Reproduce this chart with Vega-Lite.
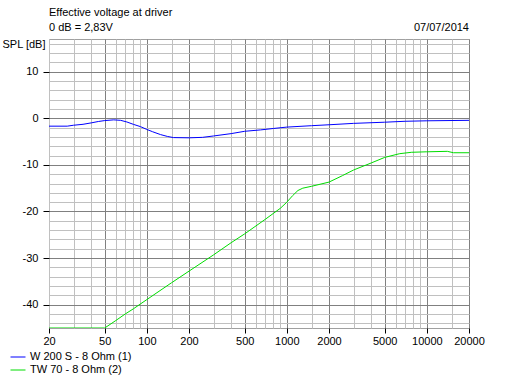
{
  "$schema": "https://vega.github.io/schema/vega-lite/v6.json",
  "width": 420,
  "height": 289,
  "autosize": {"type": "none"},
  "padding": {"left": 49, "top": 39, "right": 46, "bottom": 52},
  "background": "white",
  "config": {
    "font": "Liberation Sans",
    "view": {"stroke": "#a0a0a0", "strokeWidth": 1}
  },
  "title": {
    "text": ["Effective voltage at driver", "0 dB = 2,83V"],
    "anchor": "start",
    "frame": "group",
    "orient": "top",
    "fontSize": 11,
    "fontWeight": "normal",
    "font": "Liberation Sans",
    "color": "black",
    "lineHeight": 15,
    "offset": 5,
    "dy": 16
  },
  "datasets": {
    "curves": [
      {"series": "W 200 S - 8 Ohm (1)", "freq": 20, "spl": -1.7},
      {"series": "W 200 S - 8 Ohm (1)", "freq": 27, "spl": -1.7},
      {"series": "W 200 S - 8 Ohm (1)", "freq": 30, "spl": -1.5},
      {"series": "W 200 S - 8 Ohm (1)", "freq": 35, "spl": -1.3},
      {"series": "W 200 S - 8 Ohm (1)", "freq": 40, "spl": -1.0},
      {"series": "W 200 S - 8 Ohm (1)", "freq": 45, "spl": -0.7},
      {"series": "W 200 S - 8 Ohm (1)", "freq": 50, "spl": -0.5},
      {"series": "W 200 S - 8 Ohm (1)", "freq": 58, "spl": -0.35},
      {"series": "W 200 S - 8 Ohm (1)", "freq": 65, "spl": -0.45},
      {"series": "W 200 S - 8 Ohm (1)", "freq": 72, "spl": -0.8},
      {"series": "W 200 S - 8 Ohm (1)", "freq": 80, "spl": -1.3},
      {"series": "W 200 S - 8 Ohm (1)", "freq": 90, "spl": -1.8},
      {"series": "W 200 S - 8 Ohm (1)", "freq": 100, "spl": -2.4},
      {"series": "W 200 S - 8 Ohm (1)", "freq": 110, "spl": -2.9},
      {"series": "W 200 S - 8 Ohm (1)", "freq": 125, "spl": -3.5},
      {"series": "W 200 S - 8 Ohm (1)", "freq": 140, "spl": -3.9},
      {"series": "W 200 S - 8 Ohm (1)", "freq": 155, "spl": -4.15},
      {"series": "W 200 S - 8 Ohm (1)", "freq": 200, "spl": -4.2},
      {"series": "W 200 S - 8 Ohm (1)", "freq": 250, "spl": -4.1},
      {"series": "W 200 S - 8 Ohm (1)", "freq": 300, "spl": -3.8},
      {"series": "W 200 S - 8 Ohm (1)", "freq": 400, "spl": -3.3},
      {"series": "W 200 S - 8 Ohm (1)", "freq": 500, "spl": -2.8},
      {"series": "W 200 S - 8 Ohm (1)", "freq": 650, "spl": -2.5},
      {"series": "W 200 S - 8 Ohm (1)", "freq": 800, "spl": -2.2},
      {"series": "W 200 S - 8 Ohm (1)", "freq": 1000, "spl": -1.9},
      {"series": "W 200 S - 8 Ohm (1)", "freq": 1500, "spl": -1.6},
      {"series": "W 200 S - 8 Ohm (1)", "freq": 2000, "spl": -1.4},
      {"series": "W 200 S - 8 Ohm (1)", "freq": 3000, "spl": -1.1},
      {"series": "W 200 S - 8 Ohm (1)", "freq": 5000, "spl": -0.85},
      {"series": "W 200 S - 8 Ohm (1)", "freq": 7000, "spl": -0.65},
      {"series": "W 200 S - 8 Ohm (1)", "freq": 10000, "spl": -0.55},
      {"series": "W 200 S - 8 Ohm (1)", "freq": 20000, "spl": -0.45},
      {"series": "TW 70 - 8 Ohm (2)", "freq": 20, "spl": -45},
      {"series": "TW 70 - 8 Ohm (2)", "freq": 50, "spl": -45},
      {"series": "TW 70 - 8 Ohm (2)", "freq": 60, "spl": -43.4},
      {"series": "TW 70 - 8 Ohm (2)", "freq": 70, "spl": -42.0},
      {"series": "TW 70 - 8 Ohm (2)", "freq": 80, "spl": -40.9},
      {"series": "TW 70 - 8 Ohm (2)", "freq": 100, "spl": -38.9},
      {"series": "TW 70 - 8 Ohm (2)", "freq": 150, "spl": -35.3},
      {"series": "TW 70 - 8 Ohm (2)", "freq": 200, "spl": -32.8},
      {"series": "TW 70 - 8 Ohm (2)", "freq": 300, "spl": -29.3},
      {"series": "TW 70 - 8 Ohm (2)", "freq": 400, "spl": -26.7},
      {"series": "TW 70 - 8 Ohm (2)", "freq": 500, "spl": -24.8},
      {"series": "TW 70 - 8 Ohm (2)", "freq": 700, "spl": -21.7},
      {"series": "TW 70 - 8 Ohm (2)", "freq": 900, "spl": -19.3},
      {"series": "TW 70 - 8 Ohm (2)", "freq": 1000, "spl": -18.0},
      {"series": "TW 70 - 8 Ohm (2)", "freq": 1100, "spl": -16.6},
      {"series": "TW 70 - 8 Ohm (2)", "freq": 1200, "spl": -15.5},
      {"series": "TW 70 - 8 Ohm (2)", "freq": 1300, "spl": -15.0},
      {"series": "TW 70 - 8 Ohm (2)", "freq": 1500, "spl": -14.6},
      {"series": "TW 70 - 8 Ohm (2)", "freq": 2000, "spl": -13.7},
      {"series": "TW 70 - 8 Ohm (2)", "freq": 2500, "spl": -12.3},
      {"series": "TW 70 - 8 Ohm (2)", "freq": 3000, "spl": -11.1},
      {"series": "TW 70 - 8 Ohm (2)", "freq": 4000, "spl": -9.6},
      {"series": "TW 70 - 8 Ohm (2)", "freq": 5000, "spl": -8.4},
      {"series": "TW 70 - 8 Ohm (2)", "freq": 6400, "spl": -7.6},
      {"series": "TW 70 - 8 Ohm (2)", "freq": 7800, "spl": -7.3},
      {"series": "TW 70 - 8 Ohm (2)", "freq": 10000, "spl": -7.2},
      {"series": "TW 70 - 8 Ohm (2)", "freq": 14000, "spl": -7.1},
      {"series": "TW 70 - 8 Ohm (2)", "freq": 15500, "spl": -7.4},
      {"series": "TW 70 - 8 Ohm (2)", "freq": 20000, "spl": -7.4}
    ]
  },
  "layer": [
    {
      "data": {"name": "curves"},
      "mark": {"type": "line", "strokeWidth": 1, "clip": true},
      "encoding": {
        "x": {
          "field": "freq",
          "type": "quantitative",
          "scale": {"type": "log", "domain": [20, 20000], "nice": false},
          "axis": {
            "title": null,
            "tickCount": 200,
            "values": [20, 30, 40, 50, 60, 70, 80, 90, 100, 150, 200, 300, 400, 500, 600, 700, 800, 900, 1000, 1500, 2000, 3000, 4000, 5000, 6000, 7000, 8000, 9000, 10000, 15000, 20000],
            "labelExpr": "indexof([20,50,100,200,500,1000,2000,5000,10000,20000], datum.value) >= 0 ? '' + datum.value : ''",
            "domain": false,
            "grid": true,
            "gridWidth": 1,
            "gridColor": {"condition": {"test": "indexof([50,100,200,500,1000,2000,5000,10000,20000], datum.value) >= 0", "value": "#808080"}, "value": "#c0c0c0"},
            "ticks": true,
            "tickColor": "black",
            "tickSize": 5,
            "tickOpacity": {"condition": {"test": "indexof([20,50,100,200,500,1000,2000,5000,10000,20000], datum.value) >= 0", "value": 1}, "value": 0},
            "labelPadding": 2,
            "labelFontSize": 11,
            "labelFont": "Liberation Sans",
            "labelColor": "black",
            "labelFlush": false,
            "labelOverlap": false,
            "labelBound": false
          }
        },
        "y": {
          "field": "spl",
          "type": "quantitative",
          "scale": {"domain": [-45, 17], "nice": false, "zero": false},
          "axis": {
            "title": "SPL [dB]",
            "titleAngle": 0,
            "titleX": -47,
            "titleY": 8,
            "titleAlign": "left",
            "titleBaseline": "alphabetic",
            "titleFontWeight": "normal",
            "titleFontSize": 11,
            "titleFont": "Liberation Sans",
            "titleColor": "black",
            "tickCount": 200,
            "values": [-44, -42, -40, -38, -36, -34, -32, -30, -28, -26, -24, -22, -20, -18, -16, -14, -12, -10, -8, -6, -4, -2, 0, 2, 4, 6, 8, 10, 12, 14, 16],
            "labelExpr": "datum.value % 10 === 0 ? '' + datum.value : ''",
            "domain": false,
            "grid": true,
            "gridWidth": 1,
            "gridColor": {"condition": {"test": "datum.value % 10 === 0", "value": "#808080"}, "value": "#c0c0c0"},
            "tickColor": "black",
            "tickSize": 6,
            "tickOpacity": {"condition": {"test": "datum.value % 10 === 0", "value": 1}, "value": 0},
            "labelPadding": 5,
            "labelFontSize": 11,
            "labelFont": "Liberation Sans",
            "labelColor": "black",
            "labelOverlap": false,
            "labelBound": false,
            "labelFlush": false
          }
        },
        "color": {
          "field": "series",
          "type": "nominal",
          "scale": {"domain": ["W 200 S - 8 Ohm (1)", "TW 70 - 8 Ohm (2)"], "range": ["#0000ff", "#00dd00"]},
          "legend": {
            "orient": "none",
            "legendX": -39,
            "legendY": 310,
            "direction": "vertical",
            "title": null,
            "symbolType": "stroke",
            "symbolSize": 225,
            "symbolStrokeWidth": 1,
            "labelFontSize": 11,
            "labelFont": "Liberation Sans",
            "labelColor": "black",
            "rowPadding": 0,
            "padding": 0,
            "labelOffset": 4,
            "labelLimit": 0
          }
        }
      }
    },
    {
      "data": {"values": [{"date": "07/07/2014"}]},
      "mark": {"type": "text", "align": "right", "baseline": "alphabetic", "dy": -8, "fontSize": 11, "font": "Liberation Sans", "color": "black"},
      "encoding": {
        "x": {"datum": 20000},
        "y": {"datum": 17},
        "text": {"field": "date"}
      }
    }
  ]
}
